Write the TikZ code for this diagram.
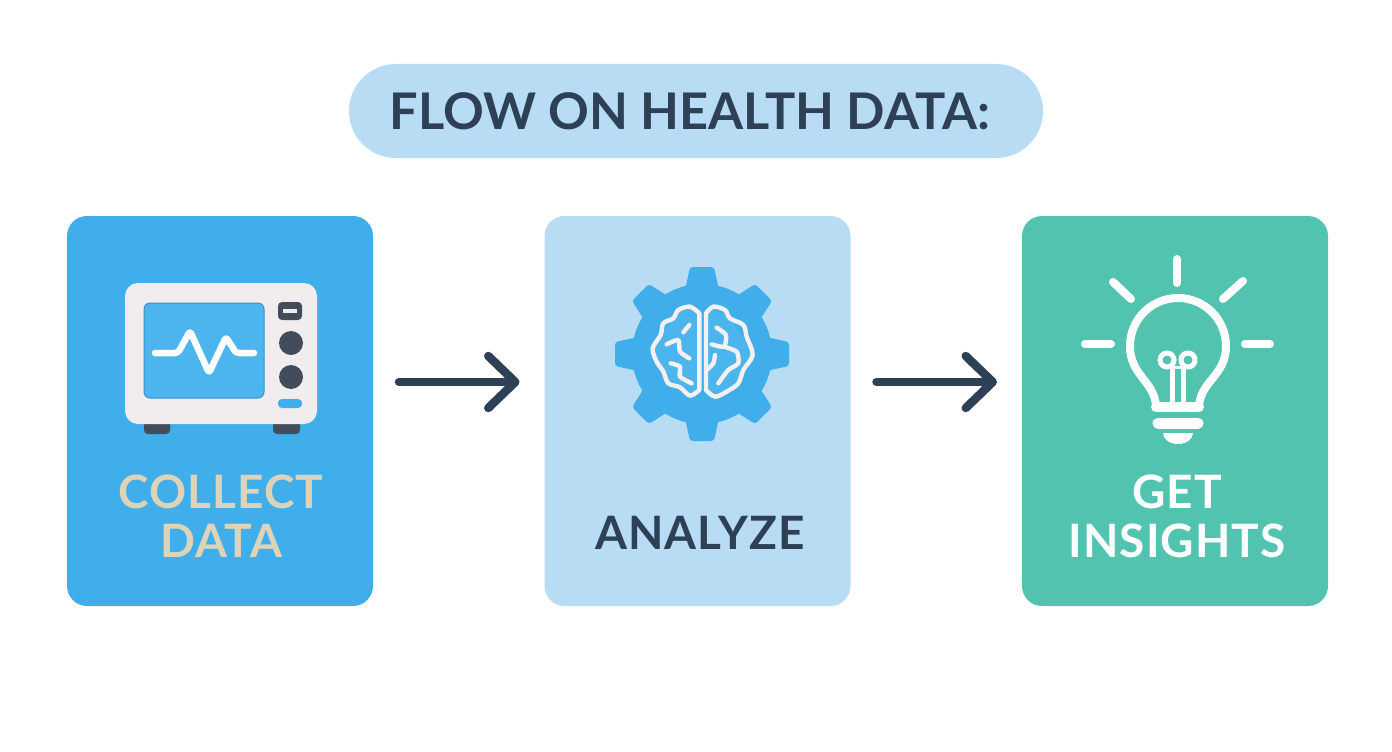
\documentclass[tikz,border=0pt]{standalone}
\usepackage{fontspec}
\setmainfont{Lato}[UprightFont=* Bold]
\newfontfamily\lblfont{Lato}[UprightFont=* Bold,LetterSpace=2.2]
\usetikzlibrary{arrows.meta}
\definecolor{navy}{HTML}{2D4055}
\definecolor{skyb}{HTML}{3FAEEA}
\definecolor{pale}{HTML}{B8DCF4}
\definecolor{teal}{HTML}{52C3AE}
\definecolor{beige}{HTML}{DCD3B8}
\definecolor{shell}{HTML}{F1ECEE}
\definecolor{knob}{HTML}{434C5A}
\definecolor{scr}{HTML}{4DB5EE}
\definecolor{lineW}{HTML}{F6F0F0}
\tikzset{
  card/.style={rounded corners=20pt,minimum width=306pt,minimum height=390pt,inner sep=0pt,outer sep=0pt},
  lbl/.style={inner sep=0pt,align=center,font=\lblfont\fontsize{46}{49}\selectfont},
  flow/.style={draw=navy,line width=8.5pt,line cap=round,-{Straight Barb[length=27pt,width=52pt,round]},shorten <=26pt,shorten >=25pt},
  wline/.style={draw=white,line width=8pt,line cap=round,line join=round},
  bline/.style={draw=lineW,line width=4.4pt,line cap=round,line join=round}
}
\begin{document}
\begin{tikzpicture}[x=1pt,y=-1pt]
\useasboundingbox (0,0) rectangle (1392,752);
\fill[white] (0,0) rectangle (1392,752);
\node[minimum width=694pt,minimum height=94pt,rounded corners=47pt,fill=pale,inner sep=0pt] (title) at (696,111) {};
\node[inner sep=0pt,text=navy,font=\fontsize{50.5}{54}\selectfont] (titletext) at (690,111) {FLOW ON HEALTH DATA:};
\node[card,fill=skyb] (c1) at (220,411) {};
\node[card,fill=pale] (c2) at (697.5,411) {};
\node[card,fill=teal] (c3) at (1175,411) {};
\draw[flow] ([yshift=29pt]c1.east) -- ([yshift=29pt]c2.west);
\draw[flow] ([yshift=29pt]c2.east) -- ([yshift=29pt]c3.west);
\node[lbl,text=beige] (l1) at (221,516) {COLLECT\\DATA};
\node[lbl,text=navy] (l2) at (700,533) {ANALYZE};
\node[lbl,text=white] (l3) at (1177,516) {GET\\INSIGHTS};
% monitor
\fill[knob,rounded corners=4pt] (144,416) rectangle (170,434);
\fill[knob,rounded corners=4pt] (273,416) rectangle (300,434);
\fill[shell,rounded corners=13pt] (125,283) rectangle (317,424);
\draw[fill=scr,rounded corners=6pt,draw=skyb!85!black,line width=1pt] (144,303) rectangle (264,398);
\draw[white,line width=6.5pt,line cap=round,line join=round,rounded corners=3pt] (155,353) -- (178,353) -- (190,331) -- (209,373) -- (226,337) -- (236,353) -- (254,353);
\fill[knob,rounded corners=4pt] (278,302) rectangle (302,320);
\fill[shell] (283,309) rectangle (297,313);
\fill[knob] (291,343) circle (12);
\fill[knob] (291,377) circle (12);
\fill[skyb,rounded corners=4pt] (278,399) rectangle (302,408);
% gear
\fill[skyb] (702,354) circle (70);
\foreach \a in {0,45,...,315}{
  \fill[skyb,rotate around={\a:(702,354)},rounded corners=3pt] (684,295) -- (690,267) -- (714,267) -- (720,295) -- cycle;
}
\begin{scope}[shift={(600,255)},x=0.3333pt,y=-0.3333pt]
\fill[scr] (298,165) .. controls (250,140) and (225,170) .. (220,190) -- (158,275) -- (205,385) -- (265,420) -- (298,405) -- cycle;
\fill[scr] (318,165) .. controls (360,140) and (385,170) .. (390,190) -- (460,290) -- (415,385) -- (355,425) -- (318,405) -- cycle;
\draw[bline] plot[smooth,tension=.55] coordinates {(298,405) (270,422) (240,397) (205,385) (190,350) (170,320) (158,280) (182,240) (190,205) (220,190) (235,165) (270,155) (298,175)} -- cycle;
\draw[bline] plot[smooth,tension=.55] coordinates {(318,405) (345,425) (380,410) (415,385) (430,345) (458,300) (440,245) (430,210) (390,190) (375,165) (340,155) (318,175)} -- cycle;
\draw[bline] plot[smooth,tension=.4] coordinates {(250,232) (268,210)};
\draw[bline] plot[smooth,tension=.4] coordinates {(200,268) (235,255) (240,290) (268,310)};
\draw[bline] plot[smooth,tension=.4] coordinates {(212,325) (240,335) (240,365) (275,385)};
\draw[bline] plot[smooth,tension=.4] coordinates {(350,218) (378,240) (372,275) (335,268)};
\draw[bline] plot[smooth,tension=.4] coordinates {(372,275) (410,290) (415,325) (385,345) (355,385)};
\draw[bline] plot[smooth,tension=.4] coordinates {(320,345) (340,325) (345,300)};
\end{scope}
% bulb
\draw[wline] (1156,405) .. controls (1153,380) and (1130,375) .. (1130,346) arc (180:360:48) .. controls (1226,375) and (1202,380) .. (1199,405);
\draw[white,line width=10pt,line cap=round] (1156,407) -- (1199,407);
\draw[white,line width=11pt,line cap=round] (1158,423) -- (1198,423);
\fill[white] (1163,433) -- (1193,433) arc (0:180:15 and 11) -- cycle;
\draw[white,line width=5pt] (1167,360) circle (7);
\draw[white,line width=5pt] (1188,360) circle (7);
\draw[white,line width=5pt] (1172,365) -- (1172,404);
\draw[white,line width=5pt] (1183,365) -- (1183,404);
\draw[white,line width=3pt] (1170,367) -- (1185,367);
\draw[wline] (1177,259) -- (1177,283);
\draw[wline] (1113,282) -- (1131,299);
\draw[wline] (1243,281) -- (1223,299);
\draw[wline] (1085,344) -- (1111,344);
\draw[wline] (1245,344) -- (1270,344);
\end{tikzpicture}
\end{document}
